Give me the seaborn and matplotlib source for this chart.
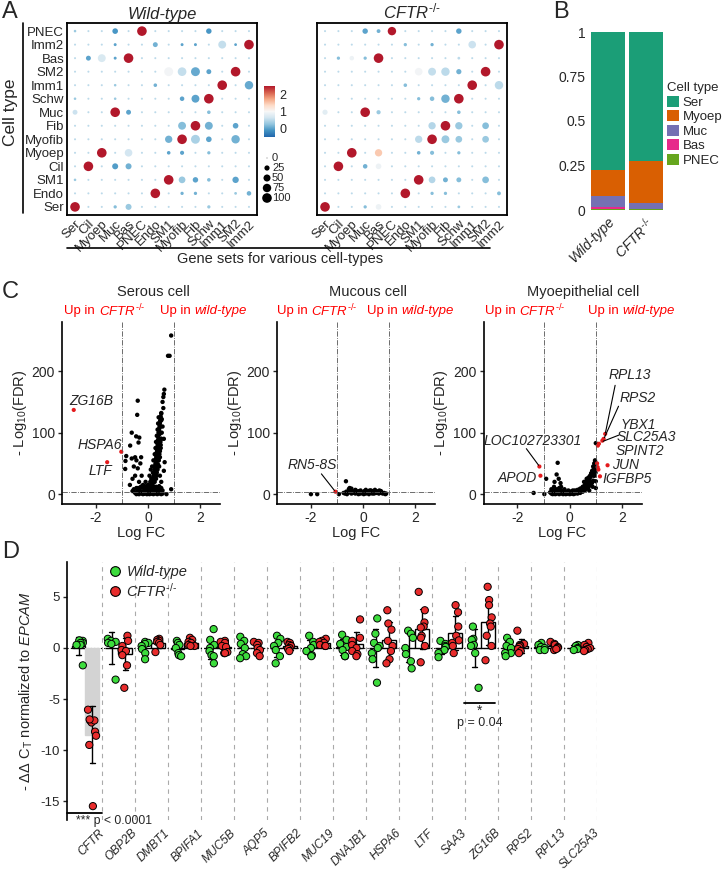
import numpy as np
import pandas as pd
import seaborn as sns
import matplotlib as mpl
import matplotlib.pyplot as plt
from matplotlib.colors import LinearSegmentedColormap, Normalize
from matplotlib.patches import Patch
from matplotlib.lines import Line2D
import matplotlib.transforms as mtrans

# ---------------- panel A: dot plots ----------------
cell_rows = ["PNEC", "Imm2", "Bas", "SM2", "Imm1", "Schw", "Muc", "Fib",
             "Myofib", "Myoep", "Cil", "SM1", "Endo", "Ser"]
gene_sets = ["Ser", "Cil", "Myoep", "Muc", "Bas", "PNEC", "Endo", "SM1",
             "Myofib", "Fib", "Schw", "Imm1", "SM2", "Imm2"]

wt_pct = [
    [4, 2, 2, 30, 2, 100, 2, 2, 2, 2, 28, 2, 2, 2],
    [2, 2, 2, 6, 2, 2, 22, 2, 6, 6, 2, 65, 5, 100],
    [2, 22, 65, 6, 100, 2, 2, 2, 2, 2, 2, 2, 2, 2],
    [2, 2, 2, 2, 2, 2, 2, 85, 80, 85, 22, 2, 100, 2],
    [2, 2, 2, 4, 2, 2, 10, 2, 2, 2, 2, 100, 2, 75],
    [4, 2, 2, 4, 2, 2, 2, 2, 18, 65, 100, 2, 2, 2],
    [22, 2, 2, 100, 22, 2, 2, 2, 2, 2, 10, 2, 2, 2],
    [2, 2, 2, 2, 2, 2, 2, 2, 65, 100, 65, 2, 30, 2],
    [2, 2, 2, 2, 2, 2, 2, 55, 100, 85, 30, 2, 75, 2],
    [2, 2, 100, 2, 60, 2, 2, 10, 14, 2, 8, 2, 2, 2],
    [2, 100, 2, 35, 35, 2, 2, 2, 2, 2, 2, 2, 2, 2],
    [4, 2, 2, 2, 2, 2, 2, 100, 45, 28, 10, 2, 40, 2],
    [2, 2, 2, 2, 2, 2, 100, 2, 8, 8, 2, 2, 5, 18],
    [100, 2, 2, 8, 35, 2, 2, 2, 2, 2, 8, 2, 2, 2],
]
wt_expr = [
    [0.3, 0.5, 0.5, -0.1, 0.5, 2.5, 0.5, 0.5, 0.5, 0.5, -0.1, 0.5, 0.5, 0.5],
    [0.5, 0.5, 0.5, 0.0, 0.5, 0.5, 0.1, 0.5, 0.0, 0.0, 0.5, 0.55, 0.0, 2.5],
    [0.5, 0.0, 0.7, 0.0, 2.5, 0.5, 0.5, 0.5, 0.5, 0.5, 0.5, 0.5, 0.5, 0.5],
    [0.5, 0.5, 0.5, 0.5, 0.5, 0.5, 0.5, 0.95, 0.55, 0.05, 0.0, 0.5, 2.5, 0.5],
    [0.5, 0.5, 0.5, 0.3, 0.5, 0.5, 0.1, 0.5, 0.5, 0.5, 0.5, 2.5, 0.5, 0.05],
    [0.3, 0.5, 0.5, 0.3, 0.5, 0.5, 0.5, 0.5, 0.0, 0.0, 2.5, 0.5, 0.5, 0.5],
    [0.6, 0.5, 0.5, 2.5, 0.0, 0.5, 0.5, 0.5, 0.5, 0.5, 0.2, 0.5, 0.5, 0.5],
    [0.5, 0.5, 0.5, 0.5, 0.5, 0.5, 0.5, 0.5, 0.2, 2.5, 0.1, 0.5, 0.0, 0.5],
    [0.5, 0.5, 0.5, 0.5, 0.5, 0.5, 0.5, 0.1, 2.5, 0.4, 0.0, 0.5, 0.1, 0.5],
    [0.5, 0.5, 2.5, 0.5, 0.65, 0.5, 0.5, 0.0, 0.0, 0.5, 0.2, 0.5, 0.5, 0.5],
    [0.5, 2.5, 0.5, -0.05, 0.1, 0.5, 0.5, 0.5, 0.5, 0.5, 0.5, 0.5, 0.5, 0.5],
    [0.3, 0.5, 0.5, 0.5, 0.5, 0.5, 0.5, 2.5, 0.3, 0.0, 0.2, 0.5, 0.0, 0.5],
    [0.5, 0.5, 0.5, 0.5, 0.5, 0.5, 2.5, 0.5, 0.1, 0.1, 0.5, 0.5, 0.3, 0.1],
    [2.5, 0.5, 0.5, 0.2, 0.3, 0.5, 0.5, 0.5, 0.5, 0.5, 0.3, 0.5, 0.5, 0.5],
]
ko_pct = [
    [2, 2, 2, 28, 12, 75, 2, 2, 2, 2, 28, 2, 2, 2],
    [2, 2, 2, 2, 2, 2, 8, 2, 8, 2, 2, 60, 2, 100],
    [2, 8, 18, 8, 100, 2, 2, 2, 2, 2, 5, 2, 2, 2],
    [2, 2, 2, 2, 2, 2, 2, 60, 65, 75, 25, 2, 100, 2],
    [2, 2, 2, 2, 2, 2, 10, 2, 2, 2, 2, 100, 2, 75],
    [2, 2, 2, 2, 2, 2, 2, 8, 18, 75, 100, 2, 2, 2],
    [25, 2, 2, 100, 15, 2, 2, 2, 2, 2, 10, 2, 2, 2],
    [2, 2, 2, 2, 2, 2, 2, 2, 55, 100, 55, 2, 45, 2],
    [2, 2, 2, 2, 2, 2, 2, 55, 100, 65, 45, 2, 45, 2],
    [2, 2, 100, 2, 55, 2, 2, 10, 14, 2, 8, 2, 2, 2],
    [2, 100, 2, 18, 30, 2, 2, 2, 2, 2, 2, 2, 2, 2],
    [2, 2, 2, 2, 2, 2, 2, 100, 45, 22, 22, 2, 45, 2],
    [2, 2, 2, 2, 2, 2, 100, 2, 8, 8, 2, 2, 2, 12],
    [100, 2, 2, 8, 30, 2, 2, 2, 2, 2, 5, 2, 2, 2],
]
ko_expr = [
    [0.5, 0.5, 0.5, 0.0, 0.1, 2.5, 0.5, 0.5, 0.5, 0.5, 0.0, 0.5, 0.5, 0.5],
    [0.5, 0.5, 0.5, 0.5, 0.5, 0.5, 0.2, 0.5, 0.1, 0.5, 0.5, 0.6, 0.5, 2.5],
    [0.5, 0.2, 0.9, 0.2, 2.5, 0.5, 0.5, 0.5, 0.5, 0.5, 0.5, 0.5, 0.5, 0.5],
    [0.5, 0.5, 0.5, 0.5, 0.5, 0.5, 0.5, 0.95, 0.55, 0.5, 0.1, 0.5, 2.5, 0.5],
    [0.5, 0.5, 0.5, 0.5, 0.5, 0.5, 0.2, 0.5, 0.5, 0.5, 0.5, 2.5, 0.5, 0.5],
    [0.5, 0.5, 0.5, 0.5, 0.5, 0.5, 0.5, 0.2, 0.2, 0.1, 2.5, 0.5, 0.5, 0.5],
    [0.8, 0.5, 0.5, 2.5, 0.3, 0.5, 0.5, 0.5, 0.5, 0.5, 0.2, 0.5, 0.5, 0.5],
    [0.5, 0.5, 0.5, 0.5, 0.5, 0.5, 0.5, 0.5, 0.45, 2.5, 0.3, 0.5, 0.2, 0.5],
    [0.5, 0.5, 0.5, 0.5, 0.5, 0.5, 0.5, 0.5, 2.5, 0.3, 0.3, 0.5, 0.3, 0.5],
    [0.5, 0.5, 2.5, 0.5, 1.5, 0.5, 0.5, 0.1, 0.2, 0.5, 0.2, 0.5, 0.5, 0.5],
    [0.5, 2.5, 0.5, 0.1, 0.9, 0.5, 0.5, 0.5, 0.5, 0.5, 0.5, 0.5, 0.5, 0.5],
    [0.5, 0.5, 0.5, 0.5, 0.5, 0.5, 0.5, 2.5, 0.45, 0.1, 0.2, 0.5, 0.2, 0.5],
    [0.5, 0.5, 0.5, 0.5, 0.5, 0.5, 2.5, 0.5, 0.2, 0.2, 0.5, 0.5, 0.5, 0.2],
    [2.5, 0.5, 0.5, 0.2, 0.9, 0.5, 0.5, 0.5, 0.5, 0.5, 0.3, 0.5, 0.5, 0.5],
]
size_legend_pct = [0, 25, 50, 75, 100]

# ---------------- panel B: composition ----------------
bar_groups = ["Wild-type", "CFTR-/-"]
cell_types = ["Ser", "Myoep", "Muc", "Bas", "PNEC"]
wt_frac = [0.776, 0.144, 0.065, 0.010, 0.005]
ko_frac = [0.727, 0.232, 0.037, 0.000, 0.004]
cell_colors = ["#1b9e77", "#d95f02", "#7570b3", "#e7298a", "#66a61e"]

# ---------------- panel C: volcano plots ----------------
ser_x = [0.88, 0.76, 0.82, 0.62, 0.6, 0.58, 0.55, 0.58, 0.5, 0.52, -0.4, -0.42, 0.6, 0.63, 0.6, 0.88, 0.7,
         -0.63, -0.46, -0.34, -0.69, -0.37, -0.84, -0.87, -0.88, -0.63, -0.27, -0.5, -0.45, -0.55, -0.4, -0.3,
         -0.25, -0.5, -0.6, -0.35, -0.7, -0.45, -0.2, -0.55, -0.3,
         0.02, 0.05, 0.08, 0.1, 0.12, 0.14, 0.15, 0.17, 0.18, 0.2, 0.21, 0.22, 0.23, 0.24, 0.25, 0.26, 0.27,
         0.28, 0.29, 0.3, 0.31, 0.32, 0.33, 0.34, 0.35, 0.36, 0.37, 0.38, 0.39, 0.4, 0.41, 0.42, 0.43, 0.44,
         0.45, 0.46, 0.48, 0.5,
         -0.5, -0.4, -0.3, -0.2, -0.1, 0.0, 0.05, -0.15, -0.05, 0.1, 0.15, 0.2, 0.25, 0.3, 0.35, 0.4, 0.45,
         0.5, 0.55, -0.25, 0.0, 0.08, 0.12, 0.05, 0.18, 0.1, -0.1, 0.15, 0.2, 0.25, 0.28, 0.3, 0.33, 0.36,
         0.38, 0.4, 0.5, 0.45, 0.42, 0.45, 0.48, 0.5, 0.52, 0.55, 0.35, 0.4, 0.32, 0.25, -0.6, -0.35, -0.15,
         0.02, 0.3, 0.38, 0.44, 0.47,
         -0.45, -0.4, -0.35, -0.3, -0.25, -0.2, -0.15, -0.1, -0.05, 0.0, 0.05, 0.1, 0.15, 0.2, 0.25, 0.3,
         0.35, 0.4, 0.45, 0.5, 0.55, -0.42, -0.32, -0.22, -0.12, -0.02, 0.08, 0.18, 0.28, 0.38, 0.48,
         -0.38, -0.28, -0.18, -0.08, 0.02, 0.12, 0.22, 0.32, 0.42,
         0.15, 0.2, 0.25, 0.3, 0.35, 0.4, 0.45, 0.22, 0.27, 0.32, 0.37, 0.42, 0.47, 0.3, 0.35, 0.4, 0.45,
         0.5, 0.33, 0.38, 0.43, 0.48, 0.4, 0.45, 0.5]
ser_y = [258, 225, 225, 170, 163, 158, 150, 140, 131, 122, 152, 129, 90, 52, 38, 8, 0,
         100, 94, 92, 79, 84, 62, 54, 41, 58, 60, 60, 55, 45, 42, 50,
         30, 30, 25, 20, 15, 10, 15, 8, 5,
         1, 2, 4, 6, 9, 12, 14, 17, 20, 24, 27, 30, 33, 36, 40, 43, 47,
         50, 54, 58, 62, 65, 68, 72, 76, 80, 84, 88, 92, 96, 100, 104, 108, 112,
         116, 120, 126, 132,
         2, 1, 3, 2, 4, 1, 6, 8, 10, 3, 1, 4, 2, 5, 3, 8, 4,
         10, 6, 12, 15, 20, 25, 30, 35, 40, 20, 45, 55, 65, 75, 85, 95, 105,
         115, 125, 20, 30, 45, 60, 75, 90, 100, 110, 40, 55, 30, 20, 5, 2, 1,
         5, 12, 70, 98, 110,
         0, 1, 0, 2, 1, 0, 1, 2, 0, 1, 0, 2, 1, 0, 2, 1,
         0, 2, 1, 0, 1, 5, 6, 4, 7, 5, 6, 8, 6, 5, 7,
         10, 12, 11, 13, 12, 14, 12, 11, 13,
         22, 28, 35, 45, 55, 65, 75, 30, 38, 50, 60, 72, 85, 25, 40, 55, 70,
         90, 35, 48, 65, 80, 100, 110, 120]
ser_red_x = [-2.85, -1.03, -1.57]
ser_red_y = [137, 69, 52]

muc_x = [-2.0, -1.76, -0.93, -0.66,
         -0.75, -0.7, -0.65, -0.6, -0.55, -0.5, -0.48, -0.45, -0.42, -0.4, -0.35, -0.3, -0.28, -0.25,
         -0.2, -0.15, -0.1, -0.05, 0.0, 0.05, 0.1, 0.15, 0.2, 0.25, 0.3, 0.35, 0.4, 0.45, 0.5, 0.55,
         0.6, 0.65, 0.7, 0.75, 0.8, 0.85, 0.88, -0.52, -0.45, -0.3, -0.1, 0.1, 0.3, 0.5, 0.12, -0.62,
         0.02, 0.62, 0.42, 0.22, -0.18, 0.68, 0.35]
muc_y = [0, 0, 0, 21,
         2, 1, 4, 2, 8, 3, 6, 1, 5, 2, 4, 1, 6, 3,
         2, 5, 1, 3, 2, 5, 1, 4, 2, 6, 3, 1, 5, 7, 2, 4,
         1, 3, 2, 1, 2, 0, 1, 10, 9, 7, 6, 7, 6, 5, 3, 0,
         0, 6, 1, 0, 0, 5, 4]
muc_red_x = [-1.06]
muc_red_y = [4]

myo_x = [-0.46, -0.9, -1.38, -0.97, 1.0, 0.98, 1.0, 1.0, -0.5, -0.42, -0.35, -0.6, -0.7, -0.75, -0.65,
         -0.55, -0.45, -0.4, -0.3, -0.25, -0.2, -0.15, -0.1, -0.05, 0.0, 0.05, 0.1, 0.15, 0.2, 0.25,
         0.3, 0.35, 0.4, 0.45, 0.5, 0.55, 0.6, 0.65, 0.7, 0.75, 0.8, 0.85, 0.9, 0.93, 0.96, 0.98, 0.95,
         0.9, 0.85, 0.8, 0.7, 0.6, 0.5, 0.4, 0.3, 0.75, 0.88, 0.99, 0.65, 0.55, -0.58, -0.33, 0.12, 0.62,
         0.82, 0.92,
         -0.7, -0.65, -0.6, -0.55, -0.5, -0.45, -0.4, -0.35, -0.3, -0.25, -0.2, -0.15, -0.1, -0.05, 0.0,
         0.05, 0.1, 0.15, 0.2, 0.25, 0.3, 0.35, 0.4, 0.45, 0.5, 0.55, 0.6, 0.65,
         -0.6, -0.5, -0.4, -0.3, -0.2, -0.1, 0.0, 0.1, 0.2, 0.3, 0.4, 0.5, 0.6, 0.7, 0.8,
         0.62, 0.68, 0.72, 0.78, 0.82, 0.86, 0.9, 0.94, 0.97]
myo_y = [51, 25, 2, 0, 83, 52, 21, 10, 32, 25, 18, 12, 8, 3, 1,
         5, 2, 10, 6, 2, 8, 4, 1, 6, 2, 4, 1, 3, 2, 5,
         4, 7, 6, 9, 11, 13, 15, 18, 21, 24, 28, 33, 38, 42, 46, 40, 30,
         22, 18, 14, 10, 7, 4, 2, 1, 6, 12, 35, 25, 20, 20, 12, 6, 10,
         20, 30,
         1, 0, 2, 0, 1, 3, 0, 2, 1, 0, 2, 0, 1, 3, 0,
         1, 2, 0, 1, 3, 2, 4, 3, 5, 6, 8, 9, 12,
         6, 8, 5, 4, 5, 3, 4, 4, 6, 7, 9, 12, 14, 16, 20,
         20, 24, 27, 30, 34, 38, 45, 50, 55]
myo_red_x = [-1.16, -1.12, 1.36, 1.3, 1.25, 1.12, 1.08, 1.45, 1.16, 1.07, 1.1, 1.05]
myo_red_y = [45, 30, 98, 90, 87, 82, 79, 47, 29, 44, 40, 50]

# ---------------- panel D: qPCR ----------------
genes = ["CFTR", "OBP2B", "DMBT1", "BPIFA1", "MUC5B", "AQP5", "BPIFB2", "MUC19",
         "DNAJB1", "HSPA6", "LTF", "SAA3", "ZG16B", "RPS2", "RPL13", "SLC25A3"]
wt_values = [
    [0.7, 0.75, 0.5, 0.5, 0.3, 0.3, -1.7],
    [0.9, 0.7, 0.5, 0.6, 0.4, -3.1],
    [0.6, 0.5, 0.4, 0.2, -0.1, -0.5, -1.1],
    [0.7, 0.5, 0.3, 0.0, -0.5, -0.7, -0.8],
    [1.85, 0.8, 0.3, 0.0, -0.3, -0.7, -0.8, -1.5],
    [1.1, 0.7, 0.4, 0.0, -0.6, -0.8, -1.0],
    [1.2, 0.9, 0.5, 0.2, -0.2, -0.8, -1.5],
    [1.2, 0.6, 0.3, 0.0, -0.3, -0.7, -0.8],
    [1.3, 0.8, 0.4, 0.1, -0.2, -0.8, -0.8],
    [2.9, 1.4, 0.5, 0.2, 0.0, -0.5, -1.1, -3.4],
    [1.7, 1.4, 1.0, 0.0, -0.6, -1.3, -2.0],
    [0.7, 0.4, 0.2, 0.1, -0.2, -0.5, -0.9],
    [2.1, 0.9, 0.8, 0.3, 0.2, -0.5, -3.9],
    [1.0, 0.6, 0.2, 0.0, -0.5, -0.5, -0.8],
    [0.5, 0.3, 0.1, 0.0, -0.2, -0.2],
    [0.3, 0.2, 0.0, -0.1, -0.2],
]
ko_values = [
    [-6.05, -7.1, -7.3, -7.1, -7.0, -8.2, -8.6, -9.5, -15.5],
    [1.2, 0.7, 0.2, -0.2, -0.3, -0.7, -1.7, -3.9],
    [0.9, 0.8, 0.7, 0.6, 0.5, 0.3, -0.4],
    [1.0, 0.8, 0.6, 0.5, 0.3, 0.2, 0.2],
    [0.7, 0.6, 0.5, 0.2, 0.1, -0.4, -0.5, -0.5],
    [0.6, 0.5, 0.3, 0.0, -0.2, -0.5, -0.8],
    [0.6, 0.5, 0.3, 0.2, 0.0, -0.1, -0.3],
    [0.9, 0.7, 0.6, 0.5, 0.3, 0.2, 0.2],
    [2.8, 1.0, 0.7, 0.3, 0.0, -0.3, -0.6, -0.8],
    [3.7, 2.4, 1.8, 0.7, 0.2, -0.3, -1.1, -1.5],
    [5.5, 3.7, 2.5, 2.1, 2.0, 1.2, 1.0, 0.2, -1.4],
    [4.2, 3.5, 2.1, 1.2, 0.75, 0.5, 0.2, -0.5],
    [6.0, 4.7, 4.2, 3.0, 2.4, 2.1, 1.2, 0.2, -1.2],
    [1.7, 0.4, 0.3, 0.2, 0.1, -0.1, -0.3, -0.5],
    [0.6, 0.4, 0.3, 0.1, 0.0, -0.2, -0.1],
    [0.5, 0.3, 0.1, 0.0, -0.1, -0.2, -0.3],
]

# ---------------- style ----------------
sns.set_style("white")
plt.rcParams["font.family"] = ["Liberation Sans", "DejaVu Sans"]
plt.rcParams["mathtext.fontset"] = "custom"
plt.rcParams["mathtext.rm"] = "Liberation Sans"
plt.rcParams["mathtext.it"] = "Liberation Sans:italic"
plt.rcParams["mathtext.bf"] = "Liberation Sans:bold"
plt.rcParams["axes.unicode_minus"] = False

W, H = 725, 873
fig = plt.figure(figsize=(7.25, 8.73), dpi=100)


def px_axes(x0, y0, x1, y1):
    return fig.add_axes([x0 / W, 1 - y1 / H, (x1 - x0) / W, (y1 - y0) / H])


def dot_area(p):
    # area-proportional dots, diameter in px -> points^2
    d = 0.8 + 8.8 * np.sqrt(np.asarray(p, dtype=float) / 100)
    return (d * 0.72) ** 2


CFTR_MT = "$\\mathit{CFTR}^{\u2010/\u2010}$"
cmap = LinearSegmentedColormap.from_list(
    "rdbu", ["#2166ac", "#4393c3", "#92c5de", "#d1e5f0", "#f7f7f7",
             "#fddbc7", "#f4a582", "#d6604d", "#b2182b"])
expr_norm = Normalize(-0.5, 2.5)
amax = float(dot_area(100))


def dot_df(pct, expr):
    recs = []
    for i in range(len(cell_rows) - 1, -1, -1):
        for j, g in enumerate(gene_sets):
            recs.append((cell_rows[i], g, pct[i][j], expr[i][j]))
    df = pd.DataFrame(recs, columns=["cell", "gene_set", "pct", "expr"])
    df["area"] = dot_area(df["pct"])
    return df


for k, (pct, expr, title) in enumerate([(wt_pct, wt_expr, "Wild-type"),
                                         (ko_pct, ko_expr, CFTR_MT)]):
    x0 = 67 if k == 0 else 317
    ax = px_axes(x0, 23, x0 + 190, 215)
    sns.scatterplot(data=dot_df(pct, expr), x="gene_set", y="cell", hue="expr",
                    palette=cmap, hue_norm=expr_norm, size="area",
                    sizes=(0, amax), size_norm=(0, amax), edgecolor="none",
                    legend=False, ax=ax)
    ax.set_xlim(-0.6, 13.6)
    ax.set_ylim(-0.6, 13.6)
    ax.set_xlabel("")
    ax.set_ylabel("")
    for s in ax.spines.values():
        s.set_linewidth(1.3)
        s.set_color("black")
    ax.tick_params(length=0, labelsize=9.5, pad=2)
    plt.setp(ax.get_xticklabels(), rotation=45, ha="right", rotation_mode="anchor")
    if k == 1:
        ax.set_yticklabels([])
    ax.set_title(title, fontsize=12, fontstyle="italic", pad=3)

# cell type label + line
fig.add_artist(Line2D([23 / W, 23 / W], [1 - 23 / H, 1 - 213 / H], color="black", lw=1.2))
fig.text(11 / W, 1 - 112 / H, "Cell type", rotation=90, ha="center", va="center", fontsize=12.5)
fig.add_artist(Line2D([67 / W, 490 / W], [1 - 248 / H, 1 - 248 / H], color="black", lw=1.2))
fig.text(280 / W, 1 - 259 / H, "Gene sets for various cell-types", ha="center", va="center", fontsize=10.5)

# colorbar
cax = px_axes(264, 86, 275, 137)
cb = mpl.colorbar.ColorbarBase(cax, cmap=cmap, norm=expr_norm, ticks=[0, 1, 2])
cb.outline.set_visible(False)
cax.tick_params(length=0, labelsize=9, pad=3)

# size legend
axs = px_axes(255, 150, 310, 206)
axs.set_xlim(255, 310)
axs.set_ylim(206, 150)
axs.axis("off")
for p, yy in zip(size_legend_pct, [158, 168, 178, 188, 198]):
    axs.scatter([267], [yy], s=dot_area(p), color="black", edgecolor="none")
    axs.text(272, yy, str(p), va="center", ha="left", fontsize=8)

# ---------------- panel B ----------------
axB = px_axes(589.5, 32, 664.5, 210)
wt_a = np.array(wt_frac)
ko_a = np.array(ko_frac)
for k, ct in enumerate(cell_types):
    tops = [wt_a[k:].sum(), ko_a[k:].sum()]
    sns.barplot(x=bar_groups, y=tops, color=cell_colors[k], width=0.9,
                saturation=1, ax=axB, edgecolor="none")
axB.set_ylim(0, 1)
axB.set_xlim(-0.5, 1.5)
axB.set_yticks([0, 0.25, 0.5, 0.75, 1])
axB.set_yticklabels(["0", "0.25", "0.5", "0.75", "1"])
for s in axB.spines.values():
    s.set_visible(False)
axB.tick_params(length=0, labelsize=10, pad=3)
axB.set_xticks([0, 1])
axB.set_xticklabels(["Wild-type", CFTR_MT], rotation=45, ha="right",
                    rotation_mode="anchor", fontsize=10)
axB.get_xticklabels()[0].set_fontstyle("italic")
handles = [Patch(facecolor=c, edgecolor="none") for c in cell_colors]
fig.legend(handles, cell_types, title="Cell type", loc="upper left",
           bbox_to_anchor=(667 / W, 1 - 82 / H), frameon=False, fontsize=9.5,
           title_fontsize=9.5, handlelength=0.9, handleheight=0.9,
           labelspacing=0.12, handletextpad=0.3, alignment="left", borderaxespad=0,
           borderpad=0)

# ---------------- panel C ----------------
volcanoes = [
    (62, "Serous cell", 0.2, ser_x, ser_y, ser_red_x, ser_red_y, -1.98, 1.70),
    (277, "Mucous cell", 0.2, muc_x, muc_y, muc_red_x, muc_red_y, -2.08, 1.39),
    (483.5, "Myoepithelial cell", 0.5, myo_x, myo_y, myo_red_x, myo_red_y, -2.02, 1.93),
]
axC = []
for (x0, title, tx, bx, by, rx, ry, s1, s2) in volcanoes:
    ax = px_axes(x0, 322, x0 + 158, 504)
    sns.scatterplot(x=bx, y=by, color="black", s=10, edgecolor="none", ax=ax)
    sns.scatterplot(x=rx, y=ry, color="#e41a1c", s=9, edgecolor="none", ax=ax)
    ax.set_xlim(-3.3, 2.75)
    ax.set_ylim(-16, 280)
    ax.axvline(-1, color="#555555", ls="-.", lw=0.6)
    ax.axvline(1, color="#555555", ls="-.", lw=0.6)
    ax.axhline(4, color="#555555", ls="-.", lw=0.6)
    ax.set_xticks([-2, 0, 2])
    ax.set_yticks([0, 100, 200])
    ax.spines[["top", "right"]].set_visible(False)
    for sp in ["left", "bottom"]:
        ax.spines[sp].set_linewidth(1.2)
        ax.spines[sp].set_color("black")
    ax.tick_params(direction="out", length=3, width=1, labelsize=10, pad=2, left=True, bottom=True)
    ax.set_xlabel("Log FC", fontsize=10.5, labelpad=1)
    ax.set_ylabel("- Log$_{10}$(FDR)", fontsize=10.5, labelpad=2)
    ax.text(tx, 328, title, ha="center", va="center", fontsize=10.5, clip_on=False)
    tr_r = mtrans.offset_copy(ax.transData, fig=fig, x=-1.0, y=0, units="points")
    tr_l = mtrans.offset_copy(ax.transData, fig=fig, x=1.5, y=0, units="points")
    ax.text(s1, 298, "Up in", color="red", ha="right", va="center", fontsize=9.5, transform=tr_r)
    ax.text(s1, 298, CFTR_MT, color="red", ha="left", va="center", fontsize=9.5, transform=tr_l)
    ax.text(s2, 298, "Up in", color="red", ha="right", va="center", fontsize=9.5, transform=tr_r)
    ax.text(s2, 298, "wild-type", color="red", ha="left", va="center", fontsize=9.5,
            fontstyle="italic", transform=tr_l)
    axC.append(ax)

lab = dict(fontsize=10, fontstyle="italic", ha="center", va="center", clip_on=False)
a1, a2, a3 = axC
a1.text(-2.18, 151, "ZG16B", **lab)
a1.text(-1.86, 80, "HSPA6", **lab)
a1.text(-1.83, 37, "LTF", **lab)
a2.text(-1.95, 48, "RN5-8S", **lab)
a2.plot([-1.6, -1.1], [33, 6], color="black", lw=0.8)
a3.text(2.3, 193, "RPL13", **lab)
a3.plot([1.74, 1.37], [177, 100], color="black", lw=0.8)
a3.text(2.6, 157, "RPS2", **lab)
a3.plot([1.87, 1.33], [143, 92], color="black", lw=0.8)
a3.text(2.62, 113, "YBX1", **lab)
a3.text(2.95, 93, "SLC25A3", **lab)
a3.plot([1.88, 1.28], [96, 86], color="black", lw=0.8)
a3.text(2.7, 71, "SPINT2", **lab)
a3.text(2.12, 48, "JUN", **lab)
a3.text(2.2, 24, "IGFBP5", **lab)
a3.text(-1.4, 87, "LOC102723301", **lab)
a3.plot([-1.66, -1.19], [74, 47], color="black", lw=0.8)
a3.text(-2.0, 26, "APOD", **lab)

# ---------------- panel D ----------------
recs = []
for g, wv, kv in zip(genes, wt_values, ko_values):
    recs += [(g, "Wild-type", v) for v in wv]
    recs += [(g, "CFTR", v) for v in kv]
dfD = pd.DataFrame(recs, columns=["gene", "genotype", "value"])

axD = px_axes(67, 562, 597, 820)
for i in range(len(genes)):
    axD.axvline(i + 0.5, color="#aaaaaa", ls=(0, (4, 4)), lw=0.8, zorder=0)
axD.axhline(0, color="black", ls=(0, (1, 2)), lw=0.8, zorder=1)
sns.barplot(data=dfD, x="gene", y="value", hue="genotype", order=genes,
            hue_order=["Wild-type", "CFTR"], palette={"Wild-type": "white", "CFTR": "white"},
            errorbar="sd", capsize=0.3, width=0.8, saturation=1,
            edgecolor="black", linewidth=1, err_kws={"color": "black", "linewidth": 1},
            legend=False, ax=axD)
for p in axD.patches:
    if p.get_height() < -3:
        p.set_facecolor("#d3d3d3")
        p.set_edgecolor("#d3d3d3")
np.random.seed(4)
sns.stripplot(data=dfD, x="gene", y="value", hue="genotype", order=genes,
              hue_order=["Wild-type", "CFTR"], palette={"Wild-type": "#3cdc3c", "CFTR": "#e82c2c"},
              dodge=True, jitter=0.25, size=5.2, edgecolor="black", linewidth=0.7,
              legend=False, ax=axD, zorder=3)
axD.set_xlim(-0.56, 15.5)
axD.set_ylim(-16.86, 8.43)
axD.set_yticks([5, 0, -5, -10, -15])
axD.set_xlabel("")
axD.set_ylabel(r"- ΔΔ C$_\mathrm{T}$ normalized to $\mathit{EPCAM}$", fontsize=10.5, labelpad=4)
axD.spines[["top", "right", "bottom"]].set_visible(False)
axD.spines["left"].set_linewidth(1.2)
axD.spines["left"].set_color("black")
axD.tick_params(axis="y", direction="out", length=3, width=1, labelsize=9.5, pad=2, left=True)
axD.tick_params(axis="x", length=0, labelsize=8.6, pad=5)
shift = mtrans.ScaledTranslation(9 / 72, 0, fig.dpi_scale_trans)
for t in axD.get_xticklabels():
    t.set_rotation(45)
    t.set_ha("right")
    t.set_rotation_mode("anchor")
    t.set_fontstyle("italic")
    t.set_transform(t.get_transform() + shift)

axD.plot([-0.56, 0.5], [-16.2, -16.2], color="black", lw=1.3, clip_on=False)
axD.text(-0.3, -17.0, "*** p < 0.0001", ha="left", va="center", fontsize=8.8, clip_on=False)
axD.plot([11.47, 12.41], [-5.4, -5.4], color="black", lw=1.3)
axD.text(11.95, -6.2, "*", ha="center", va="center", fontsize=10)
axD.text(11.95, -7.35, "p = 0.04", ha="center", va="center", fontsize=9)

hD = [Line2D([], [], marker="o", ls="none", markersize=7, markerfacecolor="#3cdc3c",
             markeredgecolor="black", markeredgewidth=0.8),
      Line2D([], [], marker="o", ls="none", markersize=7, markerfacecolor="#e82c2c",
             markeredgecolor="black", markeredgewidth=0.8)]
legD = axD.legend(hD, ["Wild-type", CFTR_MT], loc="upper left", bbox_to_anchor=(0.065, 1.01),
                  frameon=False, fontsize=10.5, handletextpad=0.3, labelspacing=0.15,
                  borderaxespad=0, handlelength=1.0)
legD.get_texts()[0].set_fontstyle("italic")

# ---------------- panel letters ----------------
for letter, (px, py) in {"A": (2, 12), "B": (553, 12), "C": (2, 292), "D": (2, 552)}.items():
    fig.text(px / W, 1 - py / H, letter, fontsize=17, ha="left", va="center")

fig.savefig("out.png", dpi=100)
